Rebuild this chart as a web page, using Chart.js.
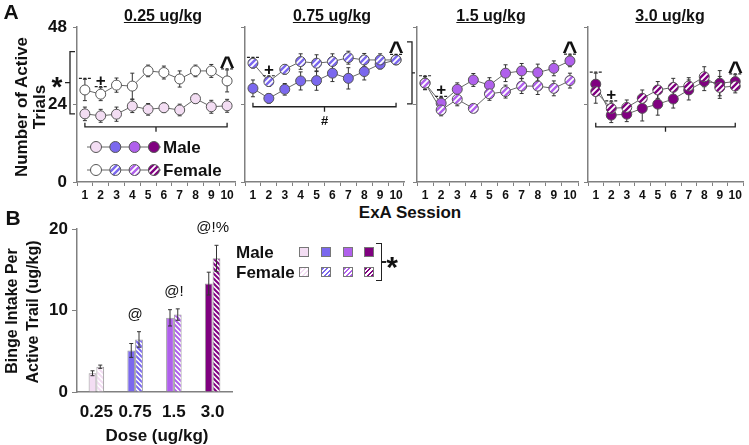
<!DOCTYPE html>
<html>
<head>
<meta charset="utf-8">
<script src="https://cdn.jsdelivr.net/npm/chart.js@4.4.1/dist/chart.umd.min.js"></script>
<style>
  body { margin: 0; background: #fff; }
  #fig { position: relative; width: 749px; height: 445px; overflow: hidden;
         font-family: Arial, "Liberation Sans", sans-serif; font-weight: bold; color: #111; }
  #fig canvas { position: absolute; }
  .lbl { position: absolute; white-space: nowrap; line-height: 1; transform: translate(-50%, -50%); }
  .left { transform: translate(0, -50%); }
  .v { transform: translate(-50%, -50%) rotate(-90deg); }
  .sw { position: absolute; width: 8px; height: 8px; border: 1px solid #777; transform: translate(-50%, -50%); }
</style>
</head>
<body>
<div id="fig">
  <canvas id="p1" width="245" height="200" style="left:0;top:0"></canvas>
  <canvas id="p2" width="178" height="200" style="left:237px;top:0"></canvas>
  <canvas id="p3" width="175" height="200" style="left:409px;top:0"></canvas>
  <canvas id="p4" width="169" height="200" style="left:580px;top:0"></canvas>
  <canvas id="pb" width="240" height="225" style="left:0;top:205px"></canvas>

  <div class="lbl" style="left:11px;top:11px;font-size:21px">A</div>
  <div class="lbl" style="left:13px;top:217px;font-size:21px">B</div>
  <div class="lbl" style="left:163px;top:16px;font-size:16px;text-decoration:underline">0.25 ug/kg</div>
  <div class="lbl" style="left:332px;top:16px;font-size:16px;text-decoration:underline">0.75 ug/kg</div>
  <div class="lbl" style="left:491px;top:16px;font-size:16px;text-decoration:underline">1.5 ug/kg</div>
  <div class="lbl" style="left:670px;top:16px;font-size:16px;text-decoration:underline">3.0 ug/kg</div>
  <div class="lbl v" style="left:21px;top:107px;font-size:17px">Number of Active</div>
  <div class="lbl v" style="left:39px;top:107px;font-size:17px">Trials</div>
  <div class="lbl" style="left:410px;top:212px;font-size:17px">ExA Session</div>
  <div class="lbl v" style="left:12px;top:311px;font-size:16px">Binge Intake Per</div>
  <div class="lbl v" style="left:33px;top:312px;font-size:16px">Active Trail (ug/kg)</div>
  <div class="lbl" style="left:157px;top:435px;font-size:17px">Dose (ug/kg)</div>
  <div class="lbl left" style="left:236px;top:252px;font-size:17px">Male</div>
  <div class="lbl left" style="left:236px;top:272px;font-size:17px">Female</div>
  <div style="position:absolute;left:376px;top:243px;width:5px;height:36px;border:1.5px solid #222;border-left:none"></div>
  <div style="position:absolute;left:382px;top:261px;width:4px;height:1.5px;background:#222"></div>
  <div class="lbl" style="left:392px;top:267px;font-size:30px">*</div>
</div>
<script>
const sessions = ['1', '2', '3', '4', '5', '6', '7', '8', '9', '10'];

// Number of active trials per session (panel A)
const male025 = [21.1, 20.5, 21.0, 23.5, 22.5, 23.0, 22.3, 25.8, 23.3, 23.6];
const male025Err = [2.1, 2.0, 2.2, 2.0, 1.8, 1.5, 1.8, 1.5, 2.0, 2.0];
const female025 = [28.5, 27.2, 30.0, 29.7, 34.4, 33.9, 31.9, 34.4, 34.4, 31.3];
const female025Err = [3.3, 2.0, 2.2, 4.0, 1.8, 2.0, 2.5, 1.8, 2.0, 3.4];

const male075 = [29.0, 25.9, 28.7, 31.3, 31.4, 33.7, 32.1, 34.2, 36.5, 37.8];
const male075Err = [2.6, 1.5, 1.8, 2.8, 3.0, 2.6, 3.3, 2.6, 1.5, 1.3];
const female075 = [36.8, 31.1, 34.9, 37.3, 36.8, 37.3, 38.5, 37.8, 37.8, 37.8];
const female075Err = [1.5, 1.5, 1.5, 2.4, 2.6, 2.4, 2.0, 2.0, 1.9, 1.4];

const male15 = [30.6, 24.4, 28.7, 31.6, 30.0, 33.7, 34.4, 33.9, 35.2, 37.5];
const male15Err = [2.0, 1.8, 2.0, 2.0, 2.3, 2.6, 2.3, 2.6, 2.3, 1.8];
const female15 = [30.6, 22.3, 25.6, 22.8, 27.3, 28.0, 29.7, 29.7, 29.0, 31.4];
const female15Err = [2.0, 1.8, 2.0, 1.0, 2.0, 2.0, 2.3, 2.6, 2.3, 2.3];

const male30 = [30.3, 20.7, 21.0, 22.8, 24.1, 25.7, 28.5, 31.1, 30.6, 31.1];
const male30Err = [3.4, 2.3, 2.3, 3.9, 3.4, 2.8, 3.1, 2.8, 3.9, 2.1];
const female30 = [28.0, 22.8, 23.1, 25.9, 28.5, 29.3, 29.7, 32.6, 29.3, 29.7];
const female30Err = [3.6, 2.0, 2.3, 2.6, 2.6, 2.8, 2.6, 3.1, 3.4, 2.1];

// Binge intake per active trial (panel B)
const doses = ['0.25', '0.75', '1.5', '3.0'];
const maleIntake = [2.3, 5.1, 9.1, 13.3];
const maleIntakeErr = [0.3, 0.85, 1.0, 1.4];
const femaleIntake = [3.1, 6.45, 9.5, 16.4];
const femaleIntakeErr = [0.2, 0.95, 0.7, 1.6];
const intakeMarks = ['', '@', '@!', '@!%'];

const pink = '#f3ddf3', blue = '#7b68ee', orchid = '#b060ec', plum = '#800080';
const axisGray = '#808080';
const tickFont = { family: 'Arial', weight: 'bold', size: 12 };
const bigFont = { family: 'Arial', weight: 'bold', size: 17 };

const patCtx = document.createElement('canvas').getContext('2d');
function hatch(color, size, back) {
    const c = document.createElement('canvas');
    c.width = size; c.height = size;
    const g = c.getContext('2d');
    g.fillStyle = '#fff';
    g.fillRect(0, 0, size, size);
    g.strokeStyle = color;
    g.lineWidth = size * 0.4;
    g.beginPath();
    if (!back) {
        g.moveTo(0, size); g.lineTo(size, 0);
        g.moveTo(-size / 2, size / 2); g.lineTo(size / 2, -size / 2);
        g.moveTo(size / 2, size * 1.5); g.lineTo(size * 1.5, size / 2);
    } else {
        g.moveTo(0, 0); g.lineTo(size, size);
        g.moveTo(-size / 2, size / 2); g.lineTo(size / 2, size * 1.5);
        g.moveTo(size / 2, -size / 2); g.lineTo(size * 1.5, size / 2);
    }
    g.stroke();
    return patCtx.createPattern(c, 'repeat');
}

function errorBars(onTop) {
    const draw = chart => {
        const ctx = chart.ctx, ys = chart.scales.y;
        ctx.save();
        ctx.strokeStyle = '#333';
        ctx.lineWidth = 1;
        chart.data.datasets.forEach((ds, i) => {
            chart.getDatasetMeta(i).data.forEach((el, j) => {
                const t = ys.getPixelForValue(ds.data[j] + ds.err[j]);
                const b = ys.getPixelForValue(ds.data[j] - ds.err[j]);
                ctx.beginPath();
                ctx.moveTo(el.x, t); ctx.lineTo(el.x, b);
                ctx.moveTo(el.x - 2, t); ctx.lineTo(el.x + 2, t);
                ctx.moveTo(el.x - 2, b); ctx.lineTo(el.x + 2, b);
                ctx.stroke();
            });
        });
        ctx.restore();
    };
    return onTop ? { id: 'errorBars', afterDatasetsDraw: draw } : { id: 'errorBars', beforeDatasetsDraw: draw };
}

// dashed marks over sessions 1, 2 and 10 with their symbols
function sigMarks(list) {
    return {
        id: 'sigMarks',
        afterDatasetsDraw(chart) {
            const ctx = chart.ctx, ys = chart.scales.y;
            ctx.save();
            list.forEach(([i, sym]) => {
                const top = Math.max(...chart.data.datasets.map(d => d.data[i] + d.err[i]));
                const x = chart.getDatasetMeta(0).data[i].x;
                const y = ys.getPixelForValue(top) - 1;
                ctx.strokeStyle = '#222';
                ctx.lineWidth = 1.2;
                ctx.setLineDash([3, 1.5]);
                ctx.beginPath(); ctx.moveTo(x - 6, y); ctx.lineTo(x + 6, y); ctx.stroke();
                ctx.fillStyle = '#111';
                ctx.textAlign = 'center';
                ctx.textBaseline = 'alphabetic';
                if (sym === '+') {
                    ctx.font = 'bold 17px Arial';
                    ctx.fillText('+', x, y - 1);
                } else if (sym === '^') {
                    ctx.font = 'bold 26px Arial';
                    ctx.fillText('^', x, y + 6);
                }
            });
            ctx.restore();
        }
    };
}

function hBracket(ctx, x1, x2, y) {
    const xm = (x1 + x2) / 2;
    ctx.beginPath();
    ctx.moveTo(x1, y - 4); ctx.lineTo(x1, y); ctx.lineTo(x2, y); ctx.lineTo(x2, y - 4);
    ctx.moveTo(xm, y); ctx.lineTo(xm, y + 5);
    ctx.stroke();
}

function vBracket(ctx, x, y1, y2, dir) {
    const ym = (y1 + y2) / 2;
    ctx.beginPath();
    ctx.moveTo(x + 5 * dir, y1); ctx.lineTo(x, y1); ctx.lineTo(x, y2); ctx.lineTo(x + 5 * dir, y2);
    ctx.moveTo(x, ym); ctx.lineTo(x - 5 * dir, ym);
    ctx.stroke();
}

function extras(fn) {
    return {
        id: 'extras',
        afterDatasetsDraw(chart) {
            const ctx = chart.ctx;
            ctx.save();
            ctx.strokeStyle = '#222';
            ctx.lineWidth = 1.3;
            fn(ctx, chart.scales.x, chart.scales.y, chart.chartArea);
            ctx.restore();
        }
    };
}

function series(label, data, err, fill) {
    return {
        label, data, err,
        borderColor: '#666', borderWidth: 1, tension: 0, fill: false,
        pointRadius: 5, pointHoverRadius: 5,
        pointBackgroundColor: fill, pointBorderColor: '#555', pointBorderWidth: 1
    };
}

function linePanel(id, datasets, showY, yWidth, padRight, extra) {
    return new Chart(document.getElementById(id), {
        type: 'line',
        data: { labels: sessions, datasets },
        options: {
            responsive: false, animation: false, devicePixelRatio: 1,
            layout: { padding: { top: 27, right: padRight, left: 0, bottom: 0 } },
            plugins: { legend: { display: false }, tooltip: { enabled: false } },
            scales: {
                x: {
                    offset: true,
                    grid: { drawOnChartArea: false, offset: true, tickLength: 4, color: axisGray },
                    border: { color: axisGray, width: 1.5 },
                    ticks: { font: tickFont, color: '#111', padding: 2, maxRotation: 0, autoSkip: false },
                    afterFit: s => { s.height = 18; }
                },
                y: {
                    min: 0, max: 48,
                    grid: { drawOnChartArea: false, tickLength: 4, color: axisGray },
                    border: { color: axisGray, width: 1.5 },
                    ticks: { stepSize: 24, font: bigFont, color: '#111', padding: 6, callback: v => showY ? v : '' },
                    afterFit: s => { s.width = yWidth; }
                }
            }
        },
        plugins: [errorBars(false), sigMarks([[0, ''], [1, '+'], [9, '^']]), extra].filter(Boolean)
    });
}

const legendMale = [pink, blue, orchid, plum];
const legendFemale = ['#fff', hatch(blue, 6), hatch(orchid, 6), hatch(plum, 6)];

linePanel('p1', [
    series('Female', female025, female025Err, '#fff'),
    series('Male', male025, male025Err, pink)
], true, 77, 10, extras((ctx, xs, ys, a) => {
    hBracket(ctx, xs.getPixelForValue(0), xs.getPixelForValue(9), ys.getPixelForValue(17.1));
    vBracket(ctx, a.left - 7, ys.getPixelForValue(40.4), ys.getPixelForValue(21.1), 1);
    const ym = (ys.getPixelForValue(40.4) + ys.getPixelForValue(21.1)) / 2;
    ctx.fillStyle = '#111';
    ctx.textAlign = 'center';
    ctx.textBaseline = 'middle';
    ctx.font = 'bold 28px Arial';
    ctx.fillText('*', a.left - 20, ym + 6);
    // legend rows
    [[a.top + 120, legendMale, 'Male'], [a.top + 143, legendFemale, 'Female']].forEach(([y, fills, text]) => {
        ctx.strokeStyle = '#666';
        ctx.lineWidth = 1;
        ctx.beginPath(); ctx.moveTo(a.left + 10, y); ctx.lineTo(a.left + 84, y); ctx.stroke();
        fills.forEach((f, k) => {
            ctx.beginPath();
            ctx.arc(a.left + 19 + k * 19.3, y, 5.5, 0, Math.PI * 2);
            ctx.fillStyle = f;
            ctx.fill();
            ctx.strokeStyle = '#555';
            ctx.stroke();
        });
        ctx.fillStyle = '#111';
        ctx.font = 'bold 17px Arial';
        ctx.textAlign = 'left';
        ctx.fillText(text, a.left + 86, y + 1);
    });
}));

linePanel('p2', [
    series('Female', female075, female075Err, hatch(blue, 6)),
    series('Male', male075, male075Err, blue)
], false, 8, 11, extras((ctx, xs, ys, a) => {
    hBracket(ctx, xs.getPixelForValue(0), xs.getPixelForValue(9), ys.getPixelForValue(23.3));
    ctx.fillStyle = '#111';
    ctx.textAlign = 'center';
    ctx.textBaseline = 'middle';
    ctx.font = 'bold 13px Arial';
    ctx.fillText('#', (xs.getPixelForValue(0) + xs.getPixelForValue(9)) / 2, ys.getPixelForValue(18.7));
    vBracket(ctx, a.right + 8, ys.getPixelForValue(43.4), ys.getPixelForValue(24.2), -1);
}));

linePanel('p3', [
    series('Female', female15, female15Err, hatch(orchid, 6)),
    series('Male', male15, male15Err, orchid)
], false, 8, 6, null);

linePanel('p4', [
    series('Female', female30, female30Err, hatch(plum, 6)),
    series('Male', male30, male30Err, plum)
], false, 8, 4, extras((ctx, xs, ys) => {
    hBracket(ctx, xs.getPixelForValue(0), xs.getPixelForValue(9), ys.getPixelForValue(17.1));
}));

// Panel B
new Chart(document.getElementById('pb'), {
    type: 'bar',
    data: {
        labels: doses,
        datasets: [
            { label: 'Male', data: maleIntake, err: maleIntakeErr,
              backgroundColor: [pink, blue, orchid, plum], borderColor: '#999', borderWidth: 1 },
            { label: 'Female', data: femaleIntake, err: femaleIntakeErr,
              backgroundColor: [hatch(pink, 5, true), hatch(blue, 5, true), hatch(orchid, 5, true), hatch(plum, 5, true)],
              borderColor: '#999', borderWidth: 1 }
        ]
    },
    options: {
        responsive: false, animation: false, devicePixelRatio: 1,
        categoryPercentage: 0.4, barPercentage: 1,
        layout: { padding: { top: 24, right: 8, left: 0, bottom: 0 } },
        plugins: { legend: { display: false }, tooltip: { enabled: false } },
        scales: {
            x: {
                grid: { drawOnChartArea: false, drawTicks: false, color: axisGray },
                border: { color: axisGray, width: 1.5 },
                ticks: { font: bigFont, color: '#111', padding: 10, maxRotation: 0, minRotation: 0, autoSkip: false },
                afterFit: s => { s.height = 38; }
            },
            y: {
                min: 0, max: 20,
                grid: { drawOnChartArea: false, tickLength: 5, color: axisGray },
                border: { color: axisGray, width: 1.5 },
                ticks: { stepSize: 10, font: bigFont, color: '#111', padding: 4 },
                afterFit: s => { s.width = 77; }
            }
        }
    },
    plugins: [errorBars(true), {
        id: 'intakeMarks',
        afterDatasetsDraw(chart) {
            const ctx = chart.ctx, xs = chart.scales.x, ys = chart.scales.y;
            ctx.save();
            ctx.fillStyle = '#111';
            ctx.font = '15px Arial';
            ctx.textAlign = 'center';
            ctx.textBaseline = 'middle';
            intakeMarks.forEach((m, i) => {
                if (!m) return;
                const top = Math.max(maleIntake[i] + maleIntakeErr[i], femaleIntake[i] + femaleIntakeErr[i]);
                ctx.fillText(m, xs.getPixelForValue(i), ys.getPixelForValue(top) - 17);
            });
            ctx.restore();
        }
    }]
});

// Panel B legend swatches
const swX = [304, 326, 348, 369];
const fig = document.getElementById('fig');
[legendMale, [pink, blue, orchid, plum]].forEach((cols, row) => {
    cols.forEach((c, k) => {
        const d = document.createElement('div');
        d.className = 'sw';
        d.style.left = swX[k] + 'px';
        d.style.top = (row === 0 ? 252 : 272) + 'px';
        d.style.background = row === 0 ? c
            : 'repeating-linear-gradient(135deg, ' + c + ' 0 1.6px, #fff 1.6px 3.2px)';
        fig.appendChild(d);
    });
});
</script>
</body>
</html>
